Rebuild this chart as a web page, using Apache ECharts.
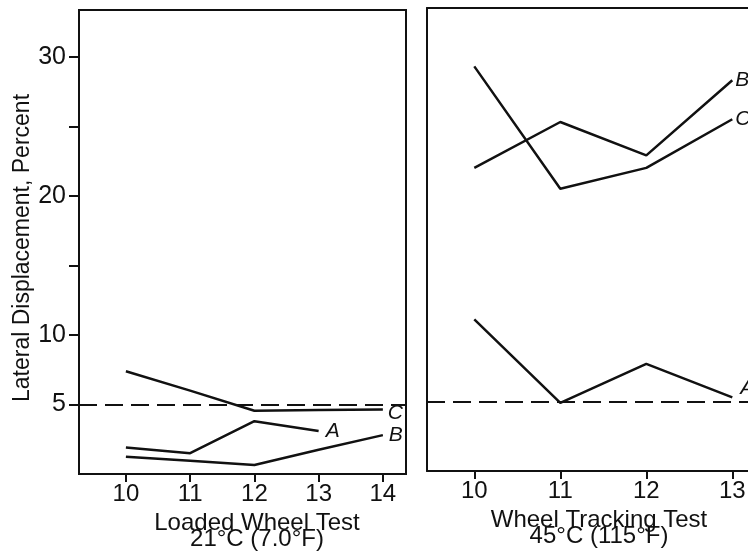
<!DOCTYPE html>
<html>
<head>
<meta charset="utf-8">
<script src="https://cdn.jsdelivr.net/npm/echarts@6/dist/echarts.min.js"></script>
<style>html,body{margin:0;padding:0;background:#fff}#c{width:748px;height:558px}</style>
</head>
<body>
<div id="c"></div>
<script>
// ---- data ----
const leftCats = [10, 11, 12, 13, 14];
const leftA = [1.9, 1.5, 3.8, 3.1, null];
const leftB = [1.25, 0.95, 0.65, 1.75, 2.8];
const leftC = [7.4, 6.0, 4.55, 4.6, 4.65];

const rightCats = [10, 11, 12, 13];
const rightA = [10.9, 4.9, 7.7, 5.3];
const rightB = [21.8, 25.1, 22.7, 28.1];
const rightC = [29.1, 20.3, 21.8, 25.3];

const criterion = 5;
const yTicks = [5, 10, 15, 20, 25, 30];
const yLabels = [5, 10, 20, 30];

const leftTitle = 'Loaded Wheel Test\n21°C (7.0°F)';
const rightTitle = 'Wheel Tracking Test\n45°C (115°F)';
const yTitle = 'Lateral Displacement, Percent';

// ---- helpers ----
const INK = '#111';
const FONT = '"Liberation Sans", Arial, Helvetica, sans-serif';
function pairs(cats, vals) {
  const out = [];
  cats.forEach((c, i) => { if (vals[i] !== null && vals[i] !== undefined) out.push([c, vals[i]]); });
  return out;
}
function lineSeries(name, idx, cats, vals, labelOpt, extra) {
  return Object.assign({
    type: 'line', name: name, xAxisIndex: idx, yAxisIndex: idx,
    data: pairs(cats, vals), symbol: 'none', silent: true,
    lineStyle: { color: INK, width: 2.5 },
    endLabel: Object.assign({
      show: true, formatter: name, color: INK, fontSize: 21, fontStyle: 'italic',
      fontFamily: FONT, distance: 5
    }, labelOpt || {}),
    animation: false
  }, extra || {});
}
function dashLine() {
  return {
    silent: true, symbol: 'none', animation: false,
    label: { show: false },
    lineStyle: { color: INK, width: 2, type: [18, 8] },
    data: [{ yAxis: criterion }]
  };
}

const chart = echarts.init(document.getElementById('c'), null, { renderer: 'canvas' });
chart.setOption({
  animation: false,
  backgroundColor: '#fff',
  grid: [
    { left: 79, top: 10, width: 327, height: 464, show: true, borderColor: INK, borderWidth: 2, containLabel: false, outerBoundsMode: 'none' },
    { left: 427, top: 8, width: 344, height: 463, show: false, containLabel: false, outerBoundsMode: 'none' }
  ],
  xAxis: [
    {
      type: 'value', gridIndex: 0, min: 9.27, max: 14.36,
      splitLine: { show: false },
      axisLine: { lineStyle: { color: INK, width: 2 } },
      axisTick: { show: true, length: 8, lineStyle: { color: INK, width: 2 }, customValues: leftCats },
      axisLabel: { color: INK, fontSize: 24, fontFamily: FONT, margin: 8, customValues: leftCats },
      name: leftTitle, nameLocation: 'middle', nameGap: 37,
      nameTextStyle: { color: INK, fontSize: 24, fontFamily: FONT, lineHeight: 16, padding: [0, 0, 0, 29] }
    },
    {
      type: 'value', gridIndex: 1, min: 9.45, max: 13.45,
      splitLine: { show: false },
      axisLine: { lineStyle: { color: INK, width: 2 } },
      axisTick: { show: true, length: 8, lineStyle: { color: INK, width: 2 }, customValues: rightCats },
      axisLabel: { color: INK, fontSize: 24, fontFamily: FONT, margin: 8, customValues: rightCats },
      name: rightTitle, nameLocation: 'middle', nameGap: 35,
      nameTextStyle: { color: INK, fontSize: 24, fontFamily: FONT, lineHeight: 16 }
    },
    {
      type: 'value', gridIndex: 1, position: 'top', min: 9.45, max: 13.45,
      splitLine: { show: false },
      axisLine: { show: true, lineStyle: { color: INK, width: 2 } },
      axisTick: { show: false }, axisLabel: { show: false }
    }
  ],
  yAxis: [
    {
      type: 'value', gridIndex: 0, min: 0, max: 33.4,
      splitLine: { show: false },
      axisLine: { show: true, lineStyle: { color: INK, width: 2 } },
      axisTick: { show: true, length: 10, lineStyle: { color: INK, width: 2 }, customValues: yTicks },
      axisLabel: { color: INK, fontSize: 25, fontFamily: FONT, margin: 13, customValues: yLabels },
      name: yTitle, nameLocation: 'middle', nameGap: 44,
      nameTextStyle: { color: INK, fontSize: 23, fontFamily: FONT, padding: [0, 12, 0, 0] }
    },
    {
      type: 'value', gridIndex: 1, min: 0, max: 33.3,
      splitLine: { show: false },
      axisLine: { show: true, lineStyle: { color: INK, width: 2 } },
      axisTick: { show: false },
      axisLabel: { show: false }
    }
  ],
  series: [
    lineSeries('A', 0, leftCats, leftA, { distance: 7 }, { markLine: dashLine() }),
    lineSeries('B', 0, leftCats, leftB, { distance: 6 }),
    lineSeries('C', 0, leftCats, leftC, { distance: 5, offset: [0, 4] }),
    lineSeries('A', 1, rightCats, rightA, { distance: 8, offset: [0, -9] }, { markLine: dashLine() }),
    lineSeries('B', 1, rightCats, rightB, { distance: 3 }),
    lineSeries('C', 1, rightCats, rightC, { distance: 3 })
  ]
});
</script>
</body>
</html>
